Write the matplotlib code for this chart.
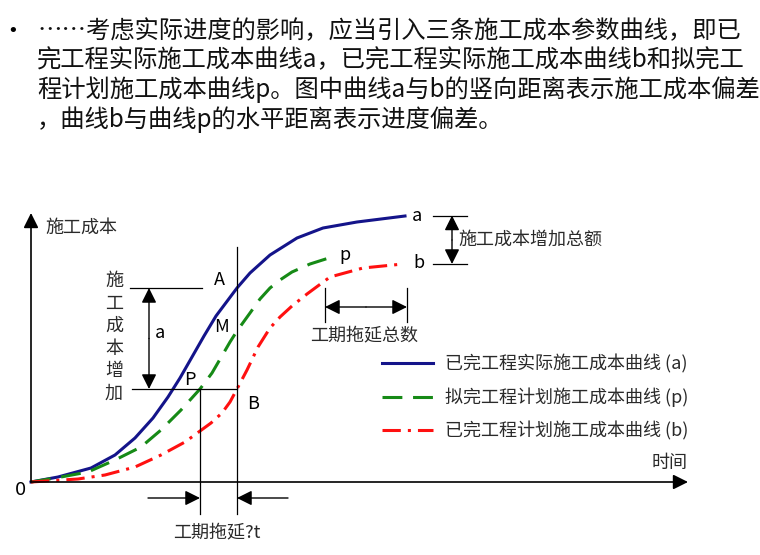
#!/usr/bin/env python3
"""
S-curve diagram: actual vs planned construction cost curves (a, p, b)
"""

import numpy as np
import matplotlib
matplotlib.use('Agg')
import matplotlib.pyplot as plt

plt.rcParams['font.family'] = ['Noto Sans CJK SC', 'DejaVu Sans']

# curve a: 已完工程实际施工成本 (time, cost)
a_t = [0, 27, 60, 84, 104, 122, 137, 149, 161, 173, 185, 197, 206, 219, 239, 266, 292, 326, 374]
a_c = [0, 5, 14, 27, 44, 64, 85, 104, 125, 146, 166, 182, 194, 209, 227, 244, 254, 260, 266]

# curve p: 拟完工程计划施工成本
p_t = [0, 30, 57, 84, 110, 130, 150, 169, 181, 199, 206, 219, 229, 239, 249, 261, 279, 301]
p_c = [0, 5, 10, 22, 35, 52, 72, 93, 109, 140, 151, 169, 183, 194, 202, 210, 218, 225]

# curve b: 已完工程计划施工成本
b_t = [0, 47, 74, 104, 130, 154, 180, 191, 199, 206, 216, 227, 239, 249, 261, 276, 299, 332, 372]
b_c = [0, 3, 7, 15, 27, 40, 59, 69, 80, 93, 112, 135, 154, 165, 176, 188, 205, 214, 218]

t_check = 206             # 检查时刻
delay_total = (294, 376)  # 工期拖延总数 区间

intro_lines = [
    '……考虑实际进度的影响，应当引入三条施工成本参数曲线，即已',
    '完工程实际施工成本曲线a，已完工程实际施工成本曲线b和拟完工',
    '程计划施工成本曲线p。图中曲线a与b的竖向距离表示施工成本偏差',
    '，曲线b与曲线p的水平距离表示进度偏差。',
]
legend_labels = ['已完工程实际施工成本曲线 (a)',
                 '拟完工程计划施工成本曲线 (p)',
                 '已完工程计划施工成本曲线 (b)']

BLUE = '#14148a'
GREEN = '#168a16'
RED = '#ff1010'
TXT = '#2a2a2a'

fig = plt.figure(figsize=(7.6, 5.55), dpi=100)
ax = fig.add_axes([0, 0, 1, 1])
ax.set_xlim(-31, 729)
ax.set_ylim(-73, 482)
ax.axis('off')


def P(x, y):
    # pixel position of the reference -> data coords
    return x - 31, 482 - y


def arrow(x0, y0, x1, y1, style='-|>', lw=1.0):
    ax.annotate('', xy=(x1, y1), xytext=(x0, y0),
                arrowprops=dict(arrowstyle=style + ',head_length=0.9,head_width=0.45',
                                mutation_scale=10, color='black', lw=lw,
                                shrinkA=0, shrinkB=0))


# intro text
ax.text(*P(13, 31), '•', fontsize=13, ha='center', va='center', color='black',
        family='DejaVu Sans')
for i, line in enumerate(intro_lines):
    ax.text(*P(37, 31 + 29.5 * i), line, fontsize=17.5, ha='left', va='center',
            color='#111111')

# axes
arrow(0, 0, 0, 269, lw=1.2)
arrow(0, 0, 657, 0, lw=1.2)
ax.text(*P(45, 228), '施工成本', fontsize=13, ha='left', va='center', color=TXT)
ax.text(*P(652, 463), '时间', fontsize=13, ha='left', va='center', color=TXT)
ax.text(*P(21, 490), '0', fontsize=13, ha='center', va='center', color='black',
        family='DejaVu Sans')

# curves
lw = 2.2
ax.plot(a_t, a_c, color=BLUE, lw=lw, solid_joinstyle='round')
ax.plot(p_t, p_c, color=GREEN, lw=lw, dashes=(6.5, 3.5))
ax.plot(b_t, b_c, color=RED, lw=lw, dashes=(6, 2.3, 1, 2.3))

ax.text(a_t[-1] + 12, a_c[-1], 'a', fontsize=13, ha='center', va='center')
ax.text(p_t[-1] + 13, p_c[-1] + 2, 'p', fontsize=13, ha='center', va='center')
ax.text(b_t[-1] + 16, b_c[-1] + 1, 'b', fontsize=13, ha='center', va='center')

# check-time construction
cA = np.interp(t_check, a_t, a_c)
cB = np.interp(t_check, b_t, b_c)
tP = np.interp(cB, p_c, p_t)
cM = np.interp(t_check, p_t, p_c)

ax.plot([t_check, t_check], [-32, 235], color='black', lw=0.9)
ax.plot([tP, tP], [-32, cB], color='black', lw=0.9)
ax.plot([99, 171], [cA, cA], color='black', lw=0.9)
ax.plot([101, t_check], [cB, cB], color='black', lw=0.9)
arrow(118, (cA + cB) / 2, 118, cA, lw=1.0)
arrow(118, (cA + cB) / 2, 118, cB, lw=1.0)

ax.text(t_check - 18, cA + 8, 'A', fontsize=13, ha='center', va='center')
ax.text(t_check - 15, cM + 4, 'M', fontsize=13, ha='center', va='center')
ax.text(tP - 10, cB + 9, 'P', fontsize=13, ha='center', va='center')
ax.text(t_check + 16, cB - 15, 'B', fontsize=13, ha='center', va='center')
ax.text(129, (cA + cB) / 2 + 6, 'a', fontsize=13, ha='center', va='center')

for i, ch in enumerate('施工成本增加'):
    ax.text(*P(114, 281 + 22.6 * i), ch, fontsize=13, ha='center', va='center', color=TXT)

# bottom delay arrows
arrow(117, -16, tP, -16)
arrow(257, -16, t_check, -16)
ax.text(*P(217, 532), '工期拖延?t', fontsize=13, ha='center', va='center', color=TXT)

# total cost increase bracket
ax.plot([402, 436], [a_c[-1] + 0.5, a_c[-1] + 0.5], color='black', lw=0.9)
ax.plot([402, 436], [b_c[-1], b_c[-1]], color='black', lw=0.9)
arrow(421, (a_c[-1] + b_c[-1]) / 2, 421, a_c[-1] + 0.5)
arrow(421, (a_c[-1] + b_c[-1]) / 2, 421, b_c[-1])
ax.text(*P(458, 240), '施工成本增加总额', fontsize=13, ha='left', va='center', color=TXT)

# total delay bracket
for t in delay_total:
    ax.plot([t, t], [160, 194], color='black', lw=0.9)
mid = sum(delay_total) / 2
arrow(mid, 175, delay_total[0], 175)
arrow(mid, 175, delay_total[1], 175)
ax.text(*P(364, 335), '工期拖延总数', fontsize=13, ha='center', va='center', color=TXT)

# legend
styles = [dict(color=BLUE), dict(color=GREEN, dashes=(6.5, 3.5)),
          dict(color=RED, dashes=(6, 2.3, 1, 2.3))]
for i, (label, st) in enumerate(zip(legend_labels, styles)):
    y = 363 + 33.5 * i
    x0, y0 = P(382, y)
    x1, _ = P(433, y)
    ax.plot([x0, x1], [y0, y0], lw=lw, **st)
    ax.text(*P(445, y + 1), label, fontsize=13, ha='left', va='center', color=TXT)

fig.savefig('out.png', dpi=100)
